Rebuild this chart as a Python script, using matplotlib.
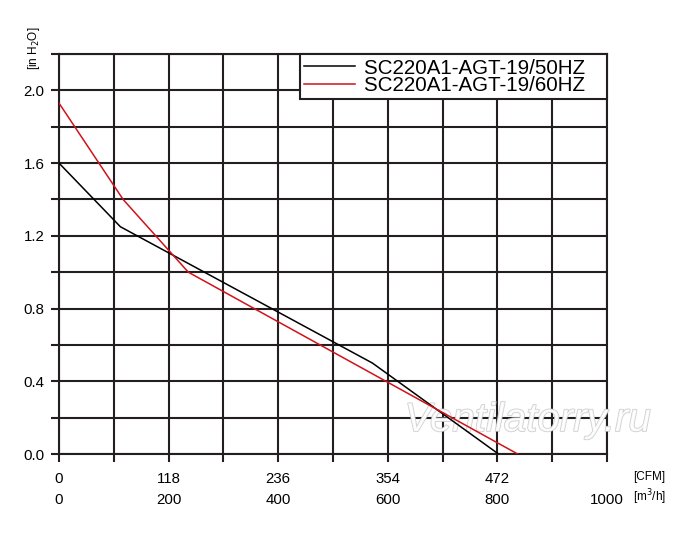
import matplotlib
matplotlib.use("Agg")
import matplotlib.pyplot as plt
import matplotlib.patheffects as pe

# fan curves, flow in m3/h, static pressure in inH2O
flow_50 = [0, 112, 572, 802]
pres_50 = [1.60, 1.25, 0.50, 0.0]
flow_60 = [0, 117, 236, 837]
pres_60 = [1.93, 1.40, 1.00, 0.0]

labels = ["SC220A1-AGT-19/50HZ", "SC220A1-AGT-19/60HZ"]

x_ticks = list(range(0, 1001, 100))
m3h_labels = ["0", "200", "400", "600", "800", "1000"]
cfm_labels = ["0", "118", "236", "354", "472", ""]
y_ticks = [round(0.2 * i, 1) for i in range(12)]

grid_col = "#231f20"
red = "#d0121b"

plt.rcParams['font.family'] = ['Liberation Sans', 'DejaVu Sans']

fig = plt.figure(figsize=(7, 5.36), dpi=100)
ax = fig.add_axes([59 / 700, 1 - 454 / 536, 548 / 700, 400 / 536])

pad_txt = " " * 3  # widen legend box to the reference width
ax.plot(flow_50, pres_50, color="black", lw=1.1, zorder=5, label=labels[0] + pad_txt)
ax.plot(flow_60, pres_60, color=red, lw=1.1, zorder=5, label=labels[1] + pad_txt)

ax.set_xlim(0, 1000)
ax.set_ylim(0, 2.2)

ax.set_xticks(x_ticks)
xt = []
for v in x_ticks:
    if v % 200 == 0:
        i = v // 200
        xt.append(cfm_labels[i] + "\n" + m3h_labels[i])
    else:
        xt.append("")
ax.set_xticklabels(xt, linespacing=1.62)

ax.set_yticks(y_ticks)
ax.set_yticklabels(["%.1f" % v if i % 2 == 0 else "" for i, v in enumerate(y_ticks)])

ax.grid(True, color=grid_col, lw=1.5)
ax.set_axisbelow(True)
for s in ax.spines.values():
    s.set_color(grid_col)
    s.set_linewidth(1.5)
ax.tick_params(axis='both', color=grid_col, width=1.5, length=6, labelsize=10.8,
               direction='out')
ax.tick_params(axis='x', pad=7)
ax.tick_params(axis='y', pad=4.5)

# watermark
ax.text(0.855, 0.085, "Ventilatorry.ru", transform=ax.transAxes, ha='center', va='center',
        fontsize=29, style='italic', color='white', alpha=0.85, zorder=3,
        path_effects=[pe.withStroke(linewidth=1.2, foreground="#c8c8c8")])

leg = ax.legend(loc='upper right', bbox_to_anchor=(1, 1), borderaxespad=0, fontsize=14.8,
                frameon=True, fancybox=False, framealpha=1, edgecolor=grid_col,
                handlelength=2.45, handletextpad=0.45, borderpad=0.22, labelspacing=-0.08)
leg.get_frame().set_linewidth(1.5)
leg.set_zorder(6)

fig.text(26 / 700, 1 - 48 / 536, "[in H$_2$O]", rotation=90, fontsize=8.5,
         ha='left', va='center')
fig.text(633 / 700, 1 - 477 / 536, "[CFM]", fontsize=8.5, ha='left', va='center')
fig.text(633 / 700, 1 - 497 / 536, "[m$^3$/h]", fontsize=8.5, ha='left', va='center')

fig.savefig("out.png", dpi=100)
